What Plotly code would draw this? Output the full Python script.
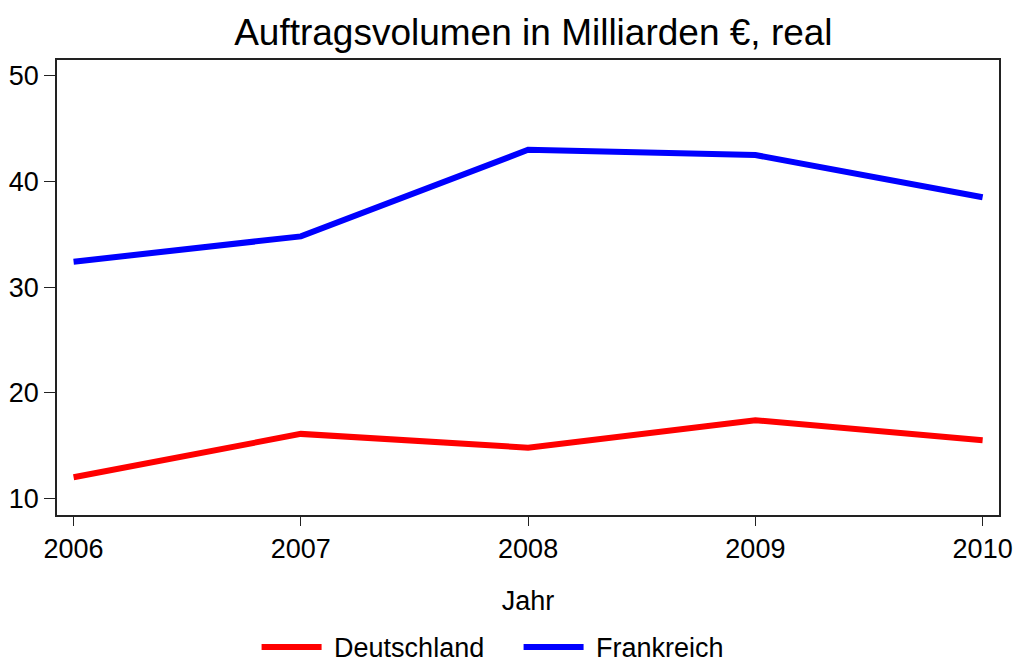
import plotly.graph_objects as go

years = [2006, 2007, 2008, 2009, 2010]
deutschland = [12.0, 16.1, 14.8, 17.4, 15.5]
frankreich = [32.4, 34.8, 43.0, 42.5, 38.5]
y_ticks = [10, 20, 30, 40, 50]
series_names = ["Deutschland", "Frankreich"]

FONT = "Liberation Sans, Arial, sans-serif"

fig = go.Figure()
fig.add_trace(go.Scatter(x=years, y=deutschland, mode="lines", name="\u00a0" + series_names[0],
                         line=dict(color="#ff0000", width=6)))
fig.add_trace(go.Scatter(x=years, y=frankreich, mode="lines", name="\u00a0" + series_names[1],
                         line=dict(color="#0000ff", width=6)))

fig.update_layout(
    width=1014, height=666,
    margin=dict(l=57, r=15, t=60, b=151, autoexpand=False),
    paper_bgcolor="white", plot_bgcolor="white",
    font=dict(family=FONT, color="black", size=27),
    title=dict(text="Auftragsvolumen in Milliarden €, real", x=0.526, xanchor="center",
               y=1 - 32 / 666, yanchor="middle", font=dict(size=37, family=FONT)),
    showlegend=True,
    legend=dict(orientation="h", x=0.49, xanchor="center", y=-0.237, yanchor="top",
                font=dict(size=27), itemwidth=60, entrywidth=187, tracegroupgap=0),
)
fig.update_xaxes(range=[2005.927, 2010.072], tickvals=years, ticktext=[str(y) for y in years],
                 showgrid=False, zeroline=False, showline=True, linecolor="#222", linewidth=1.5,
                 mirror=True, ticks="outside", ticklen=9, tickcolor="#222",
                 automargin=False, ticklabeloverflow="allow",
                 title=dict(text="Jahr", font=dict(size=27), standoff=28))
fig.update_yaxes(range=[8.42, 51.5], tickvals=y_ticks, showgrid=False, zeroline=False,
                 showline=True, linecolor="#222", linewidth=1.5, mirror=True,
                 ticks="outside", ticklen=11, tickcolor="#222", automargin=False,
                 ticklabeloverflow="allow")

fig.write_html("out.html", config={"displayModeBar": False},
               post_script="document.body.style.margin='0';")
